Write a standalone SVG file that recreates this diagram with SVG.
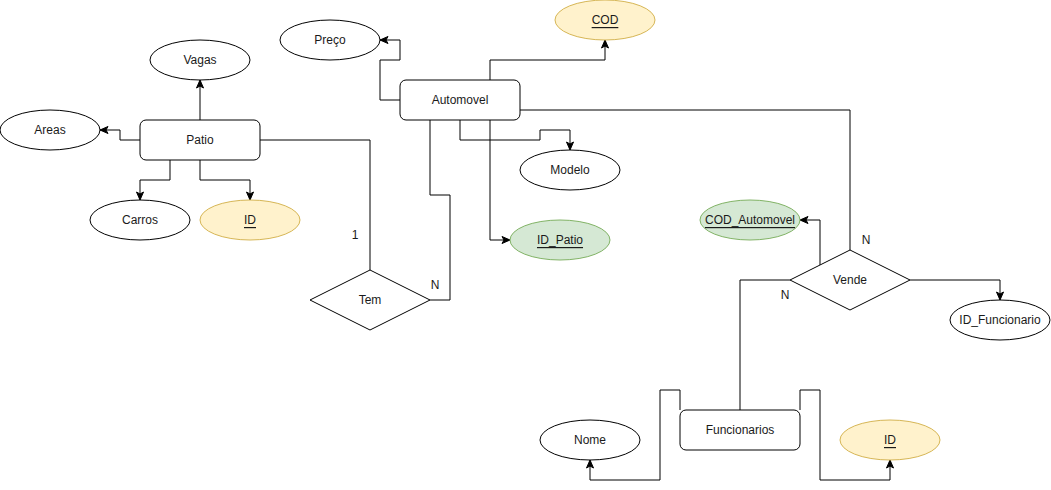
<svg xmlns="http://www.w3.org/2000/svg" width="1051" height="490" viewBox="0 0 1051 490">
<style>
.ent{fill:#fff;stroke:#000;stroke-width:1}
.att{fill:#fff;stroke:#000;stroke-width:1}
.key{fill:#fff2cc;stroke:#d6b656;stroke-width:1}
.fk{fill:#d5e8d4;stroke:#82b366;stroke-width:1}
.rel{fill:#fff;stroke:#000;stroke-width:1}
.lbl{font-family:"Liberation Sans",Arial,sans-serif;font-size:12px;fill:#1a1a1a;text-anchor:middle;dominant-baseline:central}
.u{text-decoration:underline}
.edge{fill:none;stroke:#000;stroke-width:1}
.arr{marker-end:url(#ah)}
</style>
<defs>
<marker id="ah" markerUnits="userSpaceOnUse" markerWidth="10" markerHeight="10" viewBox="0 0 10 10" refX="9" refY="5" orient="auto">
<path d="M1,1.5 L9,5 L1,8.5 L3,5 Z" fill="#000" stroke="#000" stroke-width="1"/>
</marker>
</defs>
<rect width="1051" height="490" fill="#fff"/>
<g id="connectors">
<path class="edge arr" d="M200,120 L200,80"/>
<path class="edge arr" d="M140,140 L120,140 L120,130 L100,130"/>
<path class="edge arr" d="M170,160 L170,180 L140,180 L140,200"/>
<path class="edge arr" d="M200,160 L200,180 L250,180 L250,200"/>
<path class="edge" d="M260,140 L370,140 L370,270"/>
<path class="edge arr" d="M400,100 L380,100 L380,60 L400,60 L400,40 L380,40"/>
<path class="edge arr" d="M490,80 L490,60 L605,60 L605,40"/>
<path class="edge arr" d="M460,120 L460,140 L540,140 L540,130 L570,130 L570,150"/>
<path class="edge" d="M520,110 L850,110 L850,250"/>
<path class="edge arr" d="M490,120 L490,240 L510,240"/>
<path class="edge" d="M430,120 L430,195 L450,195 L450,300 L430,300"/>
<path class="edge arr" d="M820,265 L820,220 L800,220"/>
<path class="edge arr" d="M910,280 L1000,280 L1000,300"/>
<path class="edge" d="M790,280 L740,280 L740,410"/>
<path class="edge arr" d="M680,410 L680,390 L660,390 L660,480 L590,480 L590,460"/>
<path class="edge arr" d="M800,410 L800,390 L820,390 L820,480 L890,480 L890,460"/>
<text class="lbl" x="355" y="235">1</text>
<text class="lbl" x="435" y="285">N</text>
<text class="lbl" x="866" y="240">N</text>
<text class="lbl" x="785" y="295">N</text>
</g>
<g id="patio"><rect class="ent" x="140" y="120" width="120" height="40" rx="6"/><text class="lbl" x="200" y="140">Patio</text></g>
<g id="vagas"><ellipse class="att" cx="200" cy="60" rx="50" ry="20"/><text class="lbl" x="200" y="60">Vagas</text></g>
<g id="areas"><ellipse class="att" cx="50" cy="130" rx="50" ry="20"/><text class="lbl" x="50" y="130">Areas</text></g>
<g id="carros"><ellipse class="att" cx="140" cy="220" rx="50" ry="20"/><text class="lbl" x="140" y="220">Carros</text></g>
<g id="patio-id"><ellipse class="key" cx="250" cy="220" rx="50" ry="20"/><text class="lbl u" x="250" y="220">ID</text></g>
<g id="tem"><polygon class="rel" points="310,300 370,270 430,300 370,330"/><text class="lbl" x="370" y="300">Tem</text></g>
<g id="automovel"><rect class="ent" x="400" y="80" width="120" height="40" rx="6"/><text class="lbl" x="460" y="100">Automovel</text></g>
<g id="preco"><ellipse class="att" cx="330" cy="40" rx="50" ry="20"/><text class="lbl" x="330" y="40">Preço</text></g>
<g id="cod"><ellipse class="key" cx="605" cy="20" rx="50" ry="20"/><text class="lbl u" x="605" y="20">COD</text></g>
<g id="modelo"><ellipse class="att" cx="570" cy="170" rx="50" ry="20"/><text class="lbl" x="570" y="170">Modelo</text></g>
<g id="id-patio"><ellipse class="fk" cx="560" cy="240" rx="50" ry="20"/><text class="lbl u" x="560" y="240">ID_Patio</text></g>
<g id="vende"><polygon class="rel" points="790,280 850,250 910,280 850,310"/><text class="lbl" x="850" y="280">Vende</text></g>
<g id="cod-automovel"><ellipse class="fk" cx="750" cy="220" rx="50" ry="20"/><text class="lbl u" x="750" y="220">COD_Automovel</text></g>
<g id="id-funcionario"><ellipse class="att" cx="1000" cy="320" rx="50" ry="20"/><text class="lbl" x="1000" y="320">ID_Funcionario</text></g>
<g id="funcionarios"><rect class="ent" x="680" y="410" width="120" height="40" rx="6"/><text class="lbl" x="740" y="430">Funcionarios</text></g>
<g id="nome"><ellipse class="att" cx="590" cy="440" rx="50" ry="20"/><text class="lbl" x="590" y="440">Nome</text></g>
<g id="func-id"><ellipse class="key" cx="890" cy="440" rx="50" ry="20"/><text class="lbl u" x="890" y="440">ID</text></g>
</svg>
